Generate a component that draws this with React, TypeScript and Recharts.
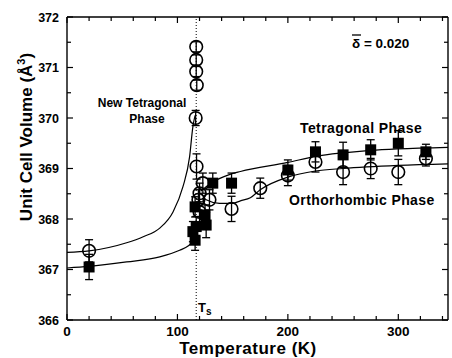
import React from 'react';
import {
  ComposedChart,
  Scatter,
  Line,
  XAxis,
  YAxis,
  ErrorBar,
  ReferenceLine,
} from 'recharts';

const FONT = '"Liberation Sans", Arial, Helvetica, sans-serif';

// tick positions (labels only on the majors)
const xTicks = [0, 20, 40, 60, 80, 100, 120, 140, 160, 180, 200, 220, 240, 260, 280, 300, 320, 340];
const yTicks = [366, 366.5, 367, 367.5, 368, 368.5, 369, 369.5, 370, 370.5, 371, 371.5, 372];

// open circles: t (K), v (A^3), e (error)
const circles = [
  { t: 20, v: 367.37, e: 0.22 },
  { t: 117, v: 371.41, e: 0.1 },
  { t: 117, v: 371.15, e: 0.1 },
  { t: 117, v: 370.92, e: 0.1 },
  { t: 117.5, v: 370.65, e: 0.1 },
  { t: 116.5, v: 370.0, e: 0.15 },
  { t: 117.3, v: 369.04, e: 0.25 },
  { t: 123, v: 368.71, e: 0.2 },
  { t: 120, v: 368.51, e: 0.2 },
  { t: 129, v: 368.38, e: 0.2 },
  { t: 119, v: 368.38, e: 0.2 },
  { t: 120, v: 368.14, e: 0.2 },
  { t: 149, v: 368.2, e: 0.25 },
  { t: 175, v: 368.61, e: 0.2 },
  { t: 200, v: 368.86, e: 0.2 },
  { t: 225, v: 369.13, e: 0.2 },
  { t: 250, v: 368.93, e: 0.25 },
  { t: 275, v: 369.0, e: 0.2 },
  { t: 300, v: 368.93, e: 0.25 },
  { t: 325, v: 369.2, e: 0.15 },
];

// filled squares
const squares = [
  { t: 20, v: 367.05, e: 0.25 },
  { t: 132, v: 368.71, e: 0.2 },
  { t: 116, v: 368.24, e: 0.2 },
  { t: 126, v: 367.88, e: 0.25 },
  { t: 117, v: 367.85, e: 0.2 },
  { t: 114, v: 367.75, e: 0.2 },
  { t: 116, v: 367.58, e: 0.2 },
  { t: 125, v: 368.08, e: 0.2 },
  { t: 149, v: 368.71, e: 0.2 },
  { t: 200, v: 368.97, e: 0.2 },
  { t: 225, v: 369.33, e: 0.2 },
  { t: 250, v: 369.27, e: 0.25 },
  { t: 275, v: 369.37, e: 0.2 },
  { t: 300, v: 369.5, e: 0.25 },
  { t: 325, v: 369.33, e: 0.15 },
];

// guide curves
const newTetCurve = [
  { t: 0, v: 367.34 },
  { t: 20, v: 367.37 },
  { t: 54, v: 367.53 },
  { t: 69, v: 367.65 },
  { t: 84, v: 367.82 },
  { t: 96, v: 368.14 },
  { t: 105, v: 368.64 },
  { t: 111, v: 369.23 },
  { t: 114, v: 369.83 },
  { t: 116, v: 370.05 },
];

const lowCurve = [
  { t: 0, v: 367.03 },
  { t: 20, v: 367.06 },
  { t: 54, v: 367.15 },
  { t: 84, v: 367.25 },
  { t: 102, v: 367.38 },
  { t: 110, v: 367.47 },
  { t: 114, v: 367.55 },
  { t: 118, v: 367.65 },
];

const tetCurve = [
  { t: 121, v: 368.55 },
  { t: 131, v: 368.72 },
  { t: 147, v: 368.88 },
  { t: 157, v: 368.94 },
  { t: 200, v: 369.12 },
  { t: 225, v: 369.24 },
  { t: 250, v: 369.31 },
  { t: 275, v: 369.36 },
  { t: 300, v: 369.39 },
  { t: 345, v: 369.42 },
];

const orthoCurve = [
  { t: 122, v: 368.5 },
  { t: 126, v: 368.38 },
  { t: 138, v: 368.31 },
  { t: 150, v: 368.31 },
  { t: 157, v: 368.36 },
  { t: 166, v: 368.42 },
  { t: 175, v: 368.58 },
  { t: 200, v: 368.83 },
  { t: 225, v: 368.95 },
  { t: 250, v: 369.0 },
  { t: 300, v: 369.06 },
  { t: 345, v: 369.09 },
];

const T_S = 117;

function BottomTick({ x, y, payload }: any) {
  const major = payload.value % 100 === 0;
  return (
    <g>
      <line x1={x} y1={y} x2={x} y2={y - (major ? 6 : 4)} stroke="#000" strokeWidth={1.2} />
      {major && (
        <text x={x} y={y + 16} textAnchor="middle" fontFamily={FONT} fontWeight="bold" fontSize={13.5} fill="#000">
          {payload.value}
        </text>
      )}
    </g>
  );
}

function TopTick({ x, y, payload }: any) {
  const major = payload.value % 100 === 0;
  return <line x1={x} y1={y} x2={x} y2={y + (major ? 6 : 4)} stroke="#000" strokeWidth={1.2} />;
}

function LeftTick({ x, y, payload }: any) {
  const major = Number.isInteger(payload.value);
  return (
    <g>
      <line x1={x} y1={y} x2={x + (major ? 6 : 4)} y2={y} stroke="#000" strokeWidth={1.2} />
      {major && (
        <text x={x - 8} y={y + 4.5} textAnchor="end" fontFamily={FONT} fontWeight="bold" fontSize={12.5} fill="#000">
          {payload.value}
        </text>
      )}
    </g>
  );
}

function RightTick({ x, y, payload }: any) {
  const major = Number.isInteger(payload.value);
  return <line x1={x} y1={y} x2={x - (major ? 6 : 4)} y2={y} stroke="#000" strokeWidth={1.2} />;
}

const OpenCircle = ({ cx, cy }: any) => (
  <circle cx={cx} cy={cy} r={6.3} fill="none" stroke="#000" strokeWidth={1.6} />
);
const FilledSquare = ({ cx, cy }: any) => (
  <rect x={cx - 5.5} y={cy - 5.5} width={11} height={11} fill="#000" />
);

const curveProps = {
  dataKey: 'v',
  type: 'monotone' as const,
  dot: false,
  stroke: '#000',
  strokeWidth: 1.2,
  isAnimationActive: false,
  legendType: 'none' as const,
};

export default function App() {
  const txt = { fontFamily: FONT, fontWeight: 'bold' as const, fill: '#000' };
  return (
    <div style={{ position: 'absolute', left: 0, top: 0, width: 452, height: 358, background: '#fff' }}>
      <ComposedChart width={452} height={358} margin={{ top: 16, right: 2, bottom: 0, left: 0 }}>
        <XAxis
          dataKey="t"
          type="number"
          domain={[0, 345]}
          ticks={xTicks}
          interval={0}
          tickSize={0}
          tickMargin={0}
          height={38}
          tick={<BottomTick />}
          axisLine={{ stroke: '#000', strokeWidth: 1.4 }}
          allowDataOverflow
        />
        <XAxis
          xAxisId="top"
          orientation="top"
          dataKey="t"
          type="number"
          domain={[0, 345]}
          ticks={xTicks}
          interval={0}
          tickSize={0}
          tickMargin={0}
          height={1}
          tick={<TopTick />}
          axisLine={{ stroke: '#000', strokeWidth: 1.4 }}
          allowDataOverflow
        />
        <YAxis
          type="number"
          domain={[366, 372]}
          ticks={yTicks}
          interval={0}
          tickSize={0}
          tickMargin={0}
          width={67}
          tick={<LeftTick />}
          axisLine={{ stroke: '#000', strokeWidth: 1.4 }}
          allowDataOverflow
        />
        <YAxis
          yAxisId="right"
          orientation="right"
          type="number"
          domain={[366, 372]}
          ticks={yTicks}
          interval={0}
          tickSize={0}
          tickMargin={0}
          width={2}
          tick={<RightTick />}
          axisLine={{ stroke: '#000', strokeWidth: 1.4 }}
          allowDataOverflow
        />
        <ReferenceLine x={T_S} stroke="#000" strokeWidth={1} strokeDasharray="1 2" />
        <Line data={newTetCurve} {...curveProps} />
        <Line data={lowCurve} {...curveProps} />
        <Line data={tetCurve} {...curveProps} />
        <Line data={orthoCurve} {...curveProps} />
        <Scatter data={circles} dataKey="v" shape={<OpenCircle />} isAnimationActive={false}>
          <ErrorBar dataKey="e" direction="y" width={4} stroke="#000" strokeWidth={1.3} />
        </Scatter>
        <Scatter data={squares} dataKey="v" shape={<FilledSquare />} isAnimationActive={false}>
          <ErrorBar dataKey="e" direction="y" width={4} stroke="#000" strokeWidth={1.3} />
        </Scatter>
      </ComposedChart>
      <svg width={452} height={358} style={{ position: 'absolute', left: 0, top: 0, pointerEvents: 'none' }}>
        <text {...txt} x={248} y={354} fontSize={17} textAnchor="middle" letterSpacing={0.5}>
          Temperature  (K)
        </text>
        <text {...txt} x={32} y={137} fontSize={17} textAnchor="middle" transform="rotate(-90 32 137)">
          Unit Cell Volume  (Å<tspan dy={-7} fontSize={11}>3</tspan><tspan dy={7}>)</tspan>
        </text>
        <text {...txt} x={142} y={107} fontSize={12} textAnchor="middle">New Tetragonal</text>
        <text {...txt} x={147} y={123} fontSize={12} textAnchor="middle">Phase</text>
        <text {...txt} x={300} y={133} fontSize={14} letterSpacing={0.4}>Tetragonal Phase</text>
        <text {...txt} x={289} y={205} fontSize={14} letterSpacing={0.4}>Orthorhombic Phase</text>
        <line x1={352} y1={35} x2={361} y2={35} stroke="#000" strokeWidth={1.3} />
        <text {...txt} x={352} y={48} fontSize={13.5}>δ = 0.020</text>
        <text {...txt} x={198} y={312} fontSize={13}>
          T<tspan dy={3} fontSize={10}>s</tspan>
        </text>
      </svg>
    </div>
  );
}
